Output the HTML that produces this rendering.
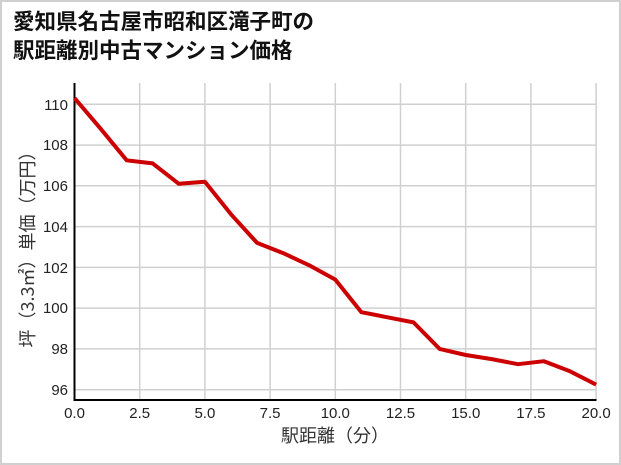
<!DOCTYPE html>
<html><head><meta charset="utf-8"><style>
html,body{margin:0;padding:0;background:#fff}
svg{display:block}
text{font-family:"Liberation Sans","Noto Sans CJK JP",sans-serif}
</style></head><body>
<svg width="621" height="465" xmlns="http://www.w3.org/2000/svg">
<rect x="1" y="1" width="619" height="463" fill="#fff" stroke="#d0d0d0" stroke-width="2"/>
<text x="13" y="29" font-size="21.5" font-weight="bold" fill="#111" style="font-family:'Noto Sans CJK JP',sans-serif">愛知県名古屋市昭和区滝子町の</text>
<text x="13" y="58" font-size="21.5" font-weight="bold" fill="#111" style="font-family:'Noto Sans CJK JP',sans-serif">駅距離別中古マンション価格</text>
<g stroke="#d0d0d0" stroke-width="1.5">
<line x1="139.7" y1="83" x2="139.7" y2="400"/>
<line x1="204.9" y1="83" x2="204.9" y2="400"/>
<line x1="270.1" y1="83" x2="270.1" y2="400"/>
<line x1="335.3" y1="83" x2="335.3" y2="400"/>
<line x1="400.5" y1="83" x2="400.5" y2="400"/>
<line x1="465.7" y1="83" x2="465.7" y2="400"/>
<line x1="530.9" y1="83" x2="530.9" y2="400"/>
<line x1="596.1" y1="83" x2="596.1" y2="400"/>
<line x1="74.5" y1="389.7" x2="596" y2="389.7"/>
<line x1="74.5" y1="348.9" x2="596" y2="348.9"/>
<line x1="74.5" y1="308.1" x2="596" y2="308.1"/>
<line x1="74.5" y1="267.4" x2="596" y2="267.4"/>
<line x1="74.5" y1="226.6" x2="596" y2="226.6"/>
<line x1="74.5" y1="185.8" x2="596" y2="185.8"/>
<line x1="74.5" y1="145.1" x2="596" y2="145.1"/>
<line x1="74.5" y1="104.3" x2="596" y2="104.3"/>
</g>
<line x1="74.5" y1="83" x2="74.5" y2="401" stroke="#000" stroke-width="2"/>
<line x1="73.5" y1="400" x2="596.5" y2="400" stroke="#000" stroke-width="2"/>
<polyline fill="none" stroke="#cc0000" stroke-width="4" stroke-linejoin="round" points="74.5,98.1 100.6,128.7 126.7,160.3 152.7,163.4 178.8,183.8 204.9,181.7 231,214.3 257.1,242.9 283.1,253.1 309.2,265.3 335.3,279.6 361.4,312.2 387.5,317.3 413.5,322.4 439.6,348.9 465.7,355 491.8,359.1 517.9,364.2 543.9,361.2 570,371.3 596.1,384.6"/>
<g font-size="15" fill="#222" text-anchor="end">
<text x="68" y="395">96</text>
<text x="68" y="354">98</text>
<text x="68" y="313">100</text>
<text x="68" y="273">102</text>
<text x="68" y="232">104</text>
<text x="68" y="191">106</text>
<text x="68" y="150">108</text>
<text x="68" y="110">110</text>
</g>
<g font-size="15" fill="#222" text-anchor="middle">
<text x="74.5" y="418">0.0</text>
<text x="139.7" y="418">2.5</text>
<text x="204.9" y="418">5.0</text>
<text x="270.1" y="418">7.5</text>
<text x="335.3" y="418">10.0</text>
<text x="400.5" y="418">12.5</text>
<text x="465.7" y="418">15.0</text>
<text x="530.9" y="418">17.5</text>
<text x="596.1" y="418">20.0</text>
</g>
<text x="335" y="442" font-size="18" fill="#333" text-anchor="middle" style="font-family:'Noto Sans CJK JP',sans-serif">駅距離（分）</text>
<text transform="translate(34,245) rotate(-90)" font-size="18" fill="#333" text-anchor="middle" style="font-family:'Noto Sans CJK JP',sans-serif">坪（3.3㎡）単価（万円）</text>
</svg>
</body></html>
